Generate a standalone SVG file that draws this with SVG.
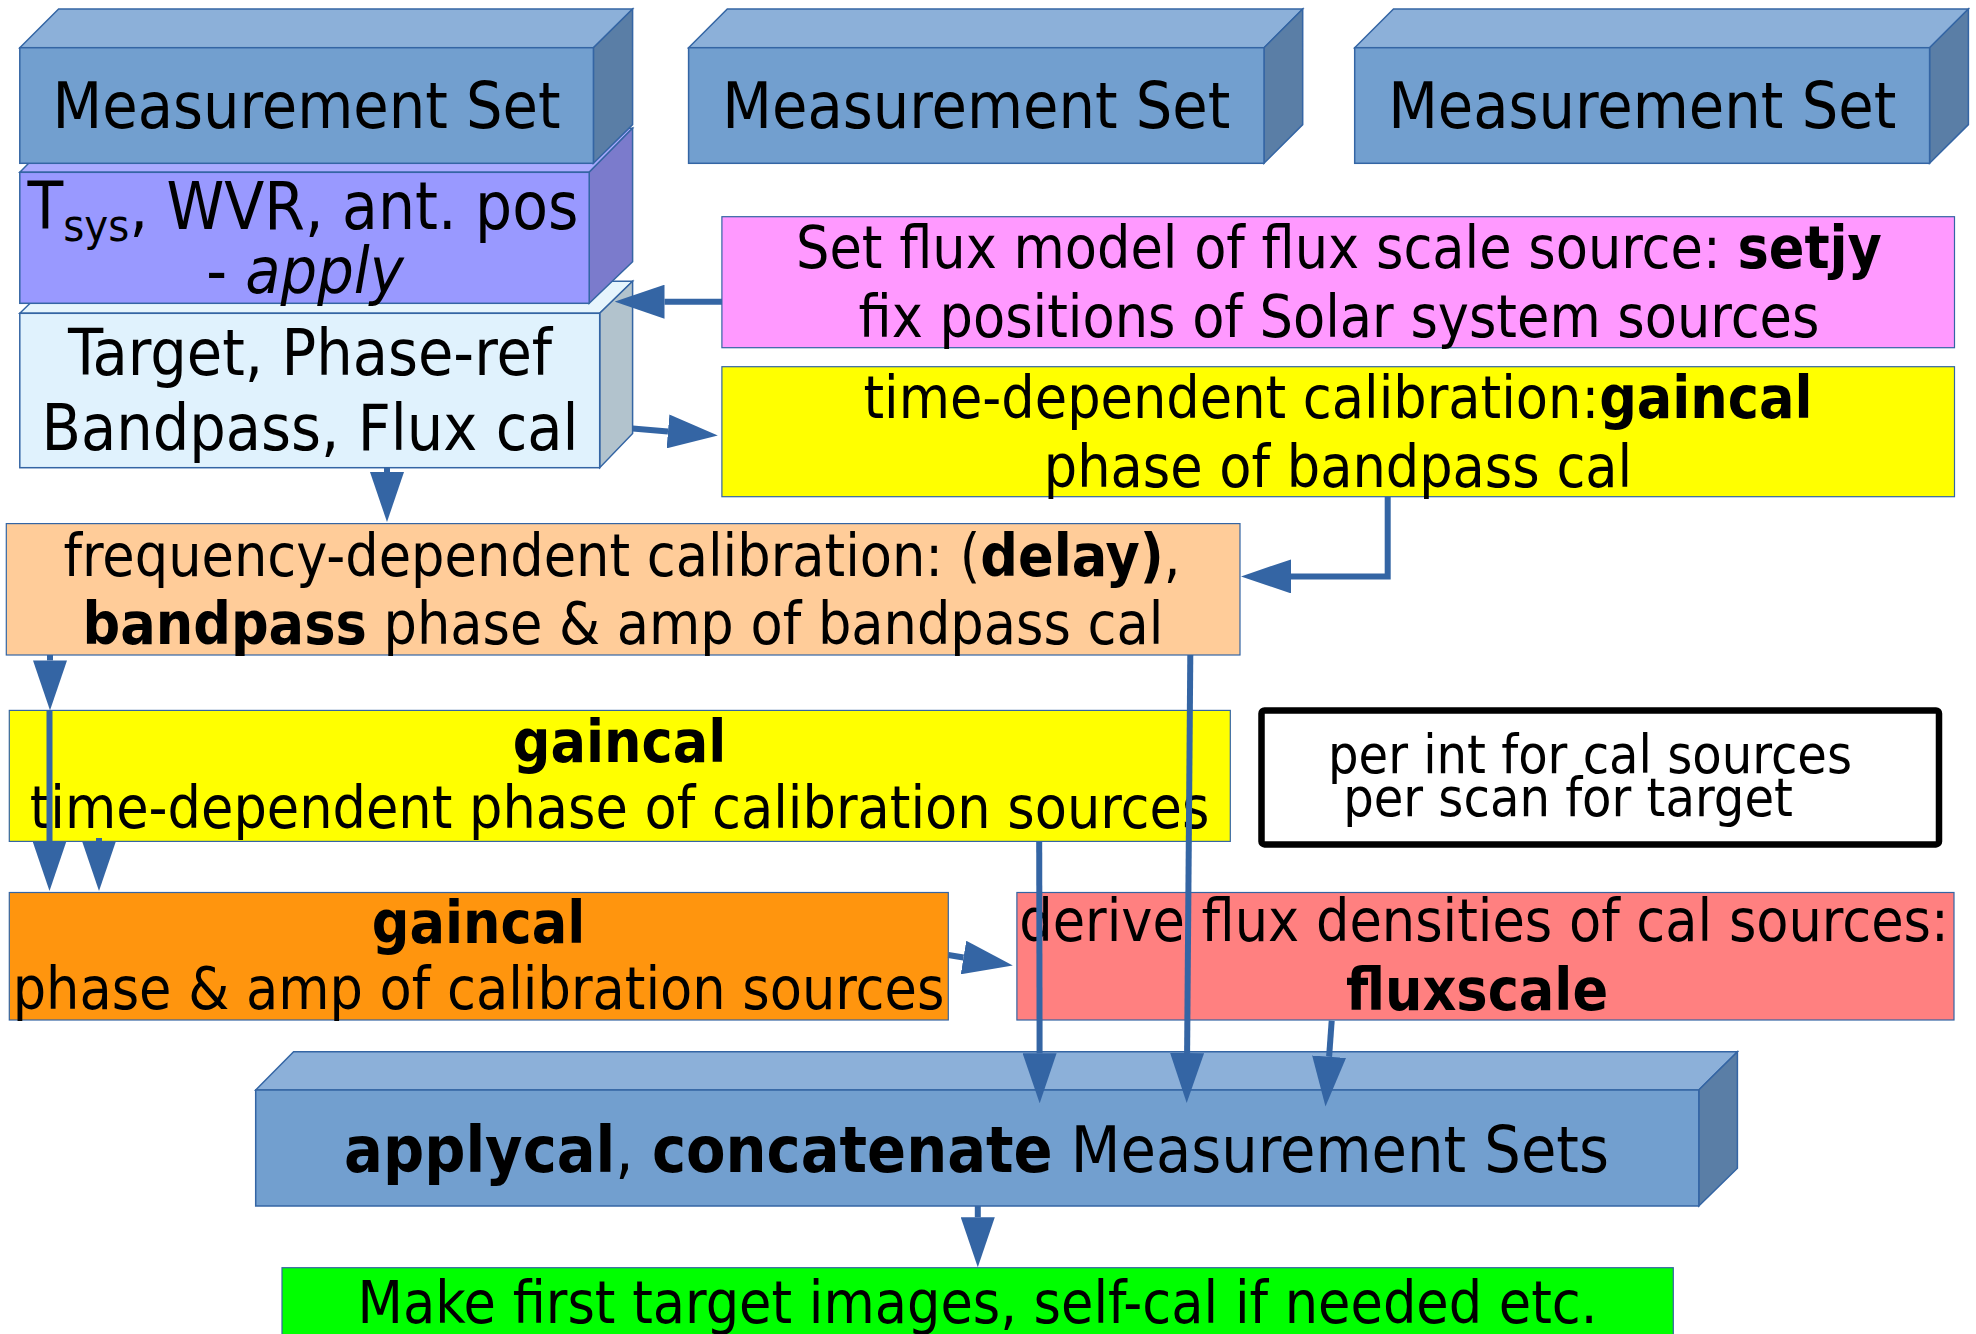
<svg xmlns="http://www.w3.org/2000/svg" width="1976" height="1334" viewBox="0 0 1976 1334">
  <defs>
    <style>
      .t { font-family: "DejaVu Sans Condensed", "DejaVu Sans", sans-serif; font-stretch: condensed; fill: #000; text-anchor: middle; }
      .big { font-size: 64px; }
      .mid { font-size: 58.5px; }
      .small { font-size: 53.5px; }
      .b { font-weight: bold; }
      .i { font-style: italic; }
      .edge { stroke: #3465a4; stroke-width: 1.5; stroke-linejoin: miter; }
      .ms-front { fill: #729fcf; }
      .ms-top { fill: #8cb0d9; }
      .ms-side { fill: #5a7ea6; }
      .pu-front { fill: #9999ff; }
      .pu-top { fill: #aaaaff; }
      .pu-side { fill: #7b7bcc; }
      .tg-front { fill: #e0f2fd; }
      .tg-top { fill: #e6f5fd; }
      .tg-side { fill: #b2c3cd; }
      .flat { stroke: #3465a4; stroke-width: 1.2; }
      .conn { fill: none; stroke: #3465a4; stroke-width: 6; marker-end: url(#head); }
    </style>
    <marker id="head" viewBox="0 0 50 34" refX="0" refY="17" markerWidth="50" markerHeight="34" markerUnits="userSpaceOnUse" orient="auto">
      <path d="M0,0 L50,17 L0,34 Z" fill="#3465a4"/>
    </marker>
  </defs>

  <!-- Target / calibrator box (3D) -->
  <g id="node-targets">
    <polygon class="tg-top edge" points="19.8,313.3 52.8,281.3 632.6,281.3 599.7,313.3"/>
    <polygon class="tg-side edge" points="599.7,313.3 632.6,281.3 632.6,433.5 599.7,467.7"/>
    <rect class="tg-front edge" x="19.8" y="313.3" width="579.9" height="154.4"/>
    <text class="t big" x="310" y="375">Target, Phase-ref</text>
    <text class="t big" x="310" y="450">Bandpass, Flux cal</text>
  </g>

  <!-- Tsys / WVR / antenna positions box (3D) -->
  <g id="node-apply">
    <polygon class="pu-top edge" points="19.8,172.3 63.2,128.3 632.6,128.3 589.2,172.3"/>
    <polygon class="pu-side edge" points="589.2,172.3 632.6,128.3 632.6,261.7 589.2,303.3"/>
    <rect class="pu-front edge" x="19.8" y="172.3" width="569.4" height="131"/>
    <text class="t" font-size="65" x="303" y="229.3">T<tspan font-size="45" dy="12">sys</tspan><tspan dy="-12">, WVR, ant. pos</tspan></text>
    <text class="t big" x="305" y="292.7">- <tspan class="i">apply</tspan></text>
  </g>

  <!-- Measurement Set 1 -->
  <g id="node-ms1">
    <polygon class="ms-top edge" points="19.8,47.7 58.6,9 632.6,9 593.4,47.7"/>
    <polygon class="ms-side edge" points="593.4,47.7 632.6,9 632.6,124.6 593.4,163.3"/>
    <rect class="ms-front edge" x="19.8" y="47.7" width="573.6" height="115.6"/>
    <text class="t big" x="306.6" y="128.3">Measurement Set</text>
  </g>

  <!-- Measurement Set 2 -->
  <g id="node-ms2">
    <polygon class="ms-top edge" points="688.6,47.7 727.3,9 1302.7,9 1264,47.7"/>
    <polygon class="ms-side edge" points="1264,47.7 1302.7,9 1302.7,124.6 1264,163.3"/>
    <rect class="ms-front edge" x="688.6" y="47.7" width="575.4" height="115.6"/>
    <text class="t big" x="976.3" y="128.3">Measurement Set</text>
  </g>

  <!-- Measurement Set 3 -->
  <g id="node-ms3">
    <polygon class="ms-top edge" points="1354.7,47.7 1393.5,9 1968.4,9 1929.6,47.7"/>
    <polygon class="ms-side edge" points="1929.6,47.7 1968.4,9 1968.4,124.6 1929.6,163.3"/>
    <rect class="ms-front edge" x="1354.7" y="47.7" width="574.9" height="115.6"/>
    <text class="t big" x="1642.2" y="128.3">Measurement Set</text>
  </g>

  <!-- setjy -->
  <g id="node-setjy">
    <rect class="flat" x="721.9" y="216.7" width="1232.6" height="131" fill="#ff99ff"/>
    <text class="t mid" x="1339" y="268.3">Set flux model of flux scale source: <tspan class="b">setjy</tspan></text>
    <text class="t mid" x="1339" y="336.7">fix positions of Solar system sources</text>
  </g>

  <!-- gaincal: bandpass cal phase -->
  <g id="node-bp-phase">
    <rect class="flat" x="721.9" y="366.7" width="1232.6" height="130" fill="#ffff00"/>
    <text class="t mid" x="1338" y="418.3">time-dependent calibration:<tspan class="b">gaincal</tspan></text>
    <text class="t mid" x="1338" y="486.7">phase of bandpass cal</text>
  </g>

  <!-- bandpass -->
  <g id="node-bandpass">
    <rect class="flat" x="6.3" y="523.6" width="1233.7" height="131.4" fill="#ffcc99"/>
    <text class="t mid" x="622" y="575.7">frequency-dependent calibration: (<tspan class="b">delay)</tspan>,</text>
    <text class="t mid" x="623" y="643.6"><tspan class="b">bandpass</tspan> phase &amp; amp of bandpass cal</text>
  </g>

  <!-- gaincal: phase of calibrators -->
  <g id="node-gaincal-phase">
    <rect class="flat" x="9.3" y="710.4" width="1221" height="131" fill="#ffff00"/>
    <text class="t mid b" x="619.5" y="762">gaincal</text>
    <text class="t mid" x="619.5" y="828">time-dependent phase of calibration sources</text>
  </g>

  <!-- solution interval note -->
  <g id="node-note">
    <rect x="1261.5" y="710.4" width="677.5" height="134" fill="#ffffff" stroke="#000000" stroke-width="6.5" rx="3"/>
    <text class="t small" x="1590" y="772.9">per int for cal sources</text>
    <text class="t small" x="1568" y="815.7">per scan for target</text>
  </g>

  <!-- gaincal: phase & amp of calibrators -->
  <g id="node-gaincal-amp">
    <rect class="flat" x="9.3" y="892.5" width="939" height="127.5" fill="#ff950e"/>
    <text class="t mid b" x="478.5" y="942.5">gaincal</text>
    <text class="t mid" x="478.5" y="1008.6">phase &amp; amp of calibration sources</text>
  </g>

  <!-- fluxscale -->
  <g id="node-fluxscale">
    <rect class="flat" x="1016.9" y="892.5" width="937.1" height="127.5" fill="#ff8080"/>
    <text class="t mid" x="1484" y="940.7">derive flux densities of cal sources:</text>
    <text class="t mid b" x="1477" y="1010">fluxscale</text>
  </g>

  <!-- applycal / concat (3D) -->
  <g id="node-applycal">
    <polygon class="ms-top edge" points="255.7,1090 293.6,1051.7 1737.4,1051.7 1698.8,1090"/>
    <polygon class="ms-side edge" points="1698.8,1090 1737.4,1051.7 1737.4,1168.3 1698.8,1206"/>
    <rect class="ms-front edge" x="255.7" y="1090" width="1443.1" height="116"/>
    <text class="t big" x="976.5" y="1171.7"><tspan class="b">applycal</tspan>, <tspan class="b">concatenate</tspan> Measurement Sets</text>
  </g>

  <!-- imaging -->
  <g id="node-imaging">
    <rect class="flat" x="282" y="1267.7" width="1391.3" height="80" fill="#00ff00"/>
    <text class="t mid" x="977.5" y="1323.3">Make first target images, self-cal if needed etc.</text>
  </g>

  <!-- connectors -->
  <g id="connectors">
    <path class="conn" d="M722,301.7 L664.5,301.7"/>
    <path class="conn" d="M632.6,428.5 L668,431.4"/>
    <path class="conn" d="M1387.7,496.7 L1387.7,576.4 L1291,576.4"/>
    <path class="conn" d="M387,467.7 L387,472"/>
    <path class="conn" d="M50,655 L50,660.4"/>
    <path class="conn" d="M49.5,710.4 L49.5,841"/>
    <path class="conn" d="M99,838 L99,841"/>
    <path class="conn" d="M948.3,955 L963.5,957.5"/>
    <path class="conn" d="M1039.2,841.4 L1039.6,1053.3"/>
    <path class="conn" d="M1190.3,655 L1187.1,1053"/>
    <path class="conn" d="M1331.7,1020.7 L1329.1,1056.7"/>
    <path class="conn" d="M977.8,1206 L977.8,1217.3"/>
  </g>
</svg>
